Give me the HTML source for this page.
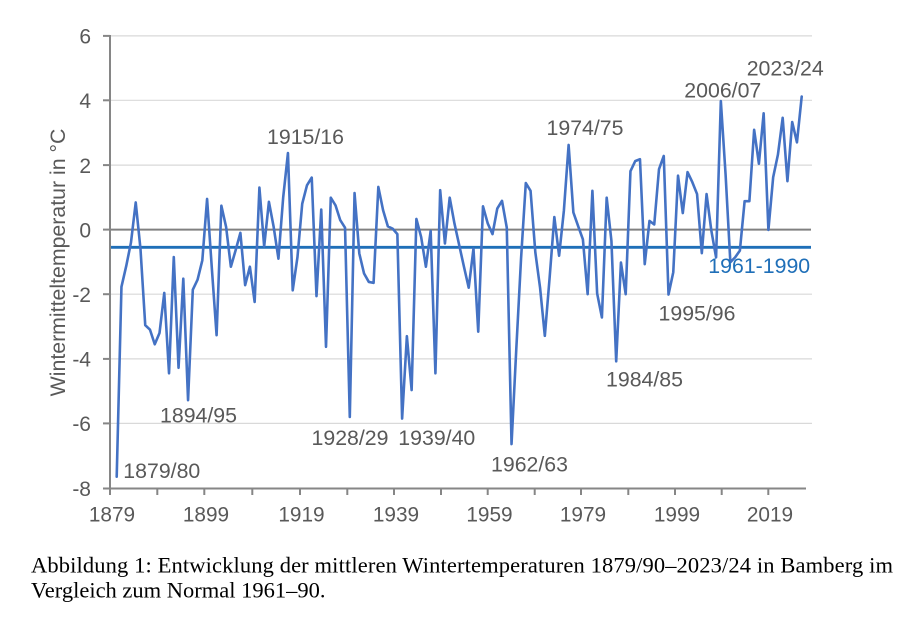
<!DOCTYPE html>
<html>
<head>
<meta charset="utf-8">
<style>
  html,body{margin:0;padding:0;background:#fff;}
  svg{display:block;}
  .t{font-family:"Liberation Sans",Arial,sans-serif;fill:#595959;}
  .c{font-family:"Liberation Serif","Times New Roman",serif;fill:#000;font-size:22.5px;}
</style>
</head>
<body>
<svg width="911" height="617" viewBox="0 0 911 617" xmlns="http://www.w3.org/2000/svg">
  <rect width="911" height="617" fill="#fff"/>
  <!-- gridlines -->
  <g stroke="#d9d9d9" stroke-width="1.2">
    <line x1="110" y1="35.9" x2="812" y2="35.9"/>
    <line x1="110" y1="100.3" x2="812" y2="100.3"/>
    <line x1="110" y1="165.1" x2="812" y2="165.1"/>
    <line x1="110" y1="294.2" x2="812" y2="294.2"/>
    <line x1="110" y1="358.9" x2="812" y2="358.9"/>
    <line x1="110" y1="423.4" x2="812" y2="423.4"/>
  </g>
  <!-- zero line -->
  <line x1="110" y1="229.6" x2="811" y2="229.6" stroke="#808080" stroke-width="2"/>
  <!-- normal 1961-1990 -->
  <line x1="110" y1="247.3" x2="811" y2="247.3" stroke="#1f6fb8" stroke-width="2.8"/>
  <!-- axes -->
  <g stroke="#868686" stroke-width="2">
    <line x1="110" y1="35" x2="110" y2="489"/>
    <line x1="109" y1="488.5" x2="806" y2="488.5"/>
    <!-- y ticks -->
    <line x1="103" y1="35.9" x2="110" y2="35.9"/>
    <line x1="103" y1="100.3" x2="110" y2="100.3"/>
    <line x1="103" y1="165.1" x2="110" y2="165.1"/>
    <line x1="103" y1="229.6" x2="110" y2="229.6"/>
    <line x1="103" y1="294.2" x2="110" y2="294.2"/>
    <line x1="103" y1="358.9" x2="110" y2="358.9"/>
    <line x1="103" y1="423.4" x2="110" y2="423.4"/>
    <line x1="103" y1="488.5" x2="110" y2="488.5"/>
    <!-- x ticks -->
    <line x1="110" y1="488" x2="110" y2="495"/>
    <line x1="157.3" y1="488" x2="157.3" y2="495"/>
    <line x1="204.3" y1="488" x2="204.3" y2="495"/>
    <line x1="252.3" y1="488" x2="252.3" y2="495"/>
    <line x1="300" y1="488" x2="300" y2="495"/>
    <line x1="347.3" y1="488" x2="347.3" y2="495"/>
    <line x1="394" y1="488" x2="394" y2="495"/>
    <line x1="441" y1="488" x2="441" y2="495"/>
    <line x1="487.7" y1="488" x2="487.7" y2="495"/>
    <line x1="534.7" y1="488" x2="534.7" y2="495"/>
    <line x1="581" y1="488" x2="581" y2="495"/>
    <line x1="628.3" y1="488" x2="628.3" y2="495"/>
    <line x1="675" y1="488" x2="675" y2="495"/>
    <line x1="721.7" y1="488" x2="721.7" y2="495"/>
    <line x1="768.3" y1="488" x2="768.3" y2="495"/>
  </g>
  <!-- data series -->
  <polyline transform="translate(116.7,229.6) scale(4.757,-32.3)" fill="none" stroke="#4472c4" stroke-width="2.6" stroke-linejoin="round" stroke-linecap="round" vector-effect="non-scaling-stroke"
    points="0,-7.65 1,-1.77 2,-1.13 3,-0.4 4,0.84 5,-0.6 6,-2.96 7,-3.1 8,-3.55 9,-3.2 10,-1.96 11,-4.45 12,-0.85 13,-4.28 14,-1.52 15,-5.28 16,-1.86 17,-1.55 18,-0.95 19,0.95 20,-1.2 21,-3.27 22,0.74 23,0.08 24,-1.15 25,-0.64 26,-0.1 27,-1.72 28,-1.15 29,-2.24 30,1.3 31,-0.52 32,0.86 33,0.08 34,-0.9 35,1.0 36,2.37 37,-1.88 38,-0.85 39,0.8 40,1.37 41,1.61 42,-2.06 43,0.62 44,-3.63 45,0.99 46,0.75 47,0.29 48,0.06 49,-5.8 50,1.13 51,-0.74 52,-1.36 53,-1.62 54,-1.65 55,1.32 56,0.6 57,0.1 58,0.03 59,-0.14 60,-5.85 61,-3.3 62,-4.97 63,0.33 64,-0.23 65,-1.15 66,-0.04 67,-4.45 68,1.22 69,-0.43 70,0.99 71,0.19 72,-0.48 73,-1.15 74,-1.8 75,-0.59 76,-3.16 77,0.72 78,0.19 79,-0.14 80,0.65 81,0.89 82,0.06 83,-6.64 84,-3.7 85,-0.9 86,1.44 87,1.2 88,-0.7 89,-1.8 90,-3.29 91,-1.5 92,0.39 93,-0.81 94,0.58 95,2.62 96,0.53 97,0.11 98,-0.3 99,-2.0 100,1.2 101,-1.98 102,-2.72 103,0.99 104,-0.35 105,-4.08 106,-1.02 107,-2.0 108,1.81 109,2.12 110,2.18 111,-1.07 112,0.27 113,0.16 114,1.87 115,2.28 116,-2.01 117,-1.32 118,1.67 119,0.51 120,1.78 121,1.47 122,1.1 123,-0.73 124,1.1 125,-0.03 126,-0.86 127,3.98 128,1.7 129,-1.01 130,-0.86 131,-0.65 132,0.88 133,0.88 134,3.09 135,2.04 136,3.6 137,-0.01 138,1.62 139,2.32 140,3.46 141,1.5 142,3.33 143,2.7 144,4.12"/>
  <!-- y tick labels -->
  <g class="t" font-size="21" text-anchor="end">
    <text x="91" y="43.5">6</text>
    <text x="91" y="108">4</text>
    <text x="91" y="172.8">2</text>
    <text x="91" y="237.3">0</text>
    <text x="91" y="302">-2</text>
    <text x="91" y="366.6">-4</text>
    <text x="91" y="431.1">-6</text>
    <text x="91" y="496.2">-8</text>
  </g>
  <!-- x tick labels -->
  <g class="t" font-size="20.8" text-anchor="middle">
    <text x="112" y="521.5">1879</text>
    <text x="206" y="521.5">1899</text>
    <text x="301.5" y="521.5">1919</text>
    <text x="396" y="521.5">1939</text>
    <text x="489.5" y="521.5">1959</text>
    <text x="583" y="521.5">1979</text>
    <text x="677" y="521.5">1999</text>
    <text x="770" y="521.5">2019</text>
  </g>
  <!-- y axis title -->
  <text class="t" font-size="21.3" text-anchor="middle" transform="translate(65,262.5) rotate(-90)">Wintermitteltemperatur in °C</text>
  <!-- annotations -->
  <g class="t" font-size="21.3">
    <text x="267" y="144">1915/16</text>
    <text x="160" y="422.5">1894/95</text>
    <text x="123.3" y="478">1879/80</text>
    <text x="311.5" y="445">1928/29</text>
    <text x="398.3" y="445">1939/40</text>
    <text x="491" y="471.5">1962/63</text>
    <text x="546.5" y="135">1974/75</text>
    <text x="606" y="386.5">1984/85</text>
    <text x="658.5" y="320.5">1995/96</text>
    <text x="684.3" y="97.5">2006/07</text>
    <text x="746.7" y="75.7">2023/24</text>
  </g>
  <text x="708.3" y="273" font-family="Liberation Sans, Arial, sans-serif" font-size="21.3" fill="#1f6fb8">1961-1990</text>
  <!-- caption -->
  <text class="c" x="31" y="572.3" textLength="862" lengthAdjust="spacing">Abbildung 1: Entwicklung der mittleren Wintertemperaturen 1879/90–2023/24 in Bamberg im</text>
  <text class="c" x="31" y="597.7">Vergleich zum Normal 1961–90.</text>
</svg>
</body>
</html>
